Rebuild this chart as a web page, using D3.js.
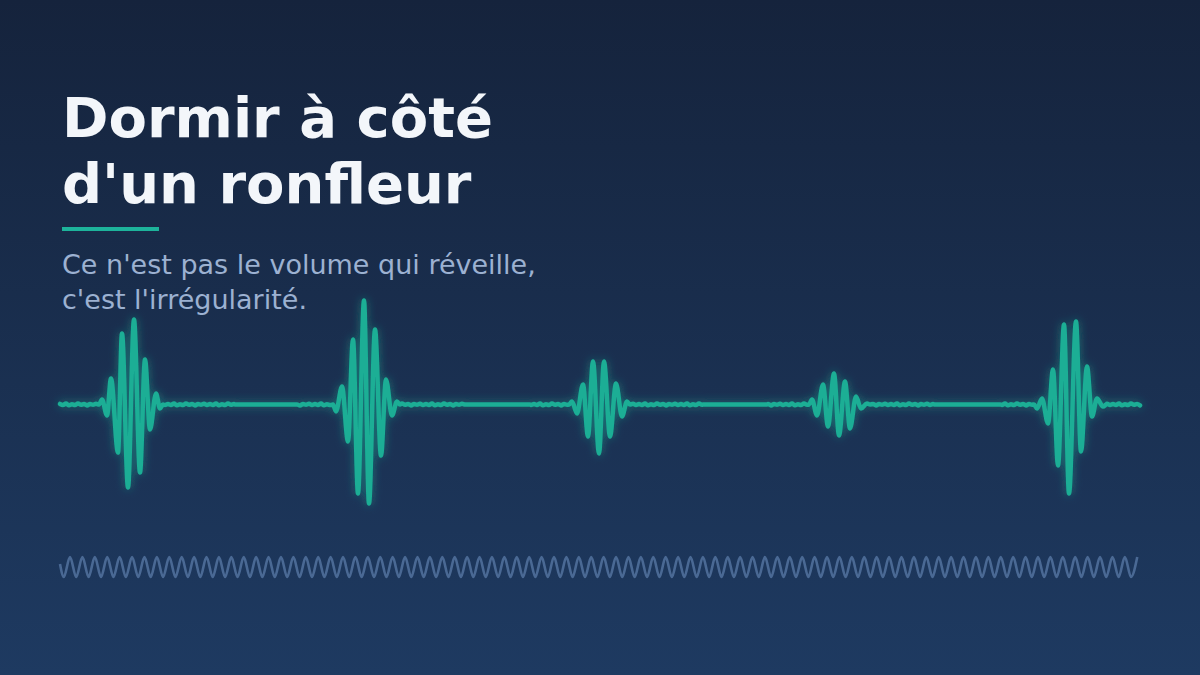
<!DOCTYPE html>
<html>
<head>
<meta charset="utf-8">
<script src="https://cdn.jsdelivr.net/npm/d3@7"></script>
<style>
  html, body { margin: 0; padding: 0; background: #16243d; }
  svg { display: block; }
</style>
</head>
<body>
<div id="drawing"></div>
<script>
// chart text
const titleLines = ["Dormir à côté", "d'un ronfleur"];
const subtitleLines = ["Ce n'est pas le volume qui réveille,", "c'est l'irrégularité."];

// snoring bursts: [time, amplitude] of each crest / trough
const burst1 = [[42,5],[47,-11],[51,26],[58,-48],[62,71],[68,-83],[74,85],[80,-68],[85,45],[90,-25],[96,11],[100,-4]];
const burst2 = [[276,-7],[282,18],[288,-37],[293,65],[298,-89],[304,104],[309,-99],[315,75],[321,-51],[326,25],[332,-11],[337,3]];
const burst3 = [[512,3],[517,-9],[523,20],[528,-32],[533,43],[539,-49],[544,43],[550,-32],[556,21],[562,-12],[567,3]];
const burst4 = [[752,5],[757,-11],[763,20],[768,-22],[774,31],[779,-31],[785,23],[790,-24],[796,8],[801,-4],[807,1]];
const burst5 = [[977,-4],[982,6],[988,-19],[993,35],[998,-61],[1004,80],[1009,-89],[1016,83],[1021,-47],[1027,38],[1032,-12],[1037,6],[1043,-2]];
const bursts = [burst1, burst2, burst3, burst4, burst5];

// flat silent stretches between bursts
const quietSpans = [[175,237],[405,470],[643,707],[875,940]];
// small background hiss around the bursts
const hiss = [0.6,-0.4,0.9,-0.7,0.3,-0.6,1.0,-0.3,0.5,-0.9,0.4,-0.2,0.8,-0.5];

// steady breathing line at the bottom
const breathFirstPeak = 10;
const breathPeriod = 12.41;
const breathAmp = 10;
const duration = 1080;

const width = 1200;
const height = 675;

const svg = d3.select("#drawing").append("svg")
  .attr("width", width)
  .attr("height", height);

const defs = svg.append("defs");
const bg = defs.append("linearGradient")
  .attr("id", "bg").attr("x1", 0).attr("y1", 0).attr("x2", 0).attr("y2", 1);
bg.append("stop").attr("offset", "0%").attr("stop-color", "#15233c");
bg.append("stop").attr("offset", "100%").attr("stop-color", "#1e3a61");

// soft halo round the snoring line
const glow = defs.append("filter")
  .attr("id", "glow")
  .attr("x", "-10%").attr("y", "-60%")
  .attr("width", "120%").attr("height", "220%");
glow.append("feGaussianBlur").attr("in", "SourceGraphic").attr("stdDeviation", 5).attr("result", "blur");
glow.append("feComponentTransfer").attr("in", "blur").attr("result", "soft")
  .append("feFuncA").attr("type", "linear").attr("slope", 0.55);
const merge = glow.append("feMerge");
merge.append("feMergeNode").attr("in", "soft");
merge.append("feMergeNode").attr("in", "SourceGraphic");

svg.append("rect")
  .attr("width", width).attr("height", height)
  .attr("fill", "url(#bg)");

// title block
const title = svg.append("text")
  .attr("font-family", "DejaVu Sans, sans-serif")
  .attr("font-weight", "bold")
  .attr("font-size", 56)
  .attr("fill", "#f3f6fa");
title.selectAll("tspan")
  .data(titleLines)
  .join("tspan")
  .attr("x", 62)
  .attr("y", (d, i) => 137 + i * 66)
  .text(d => d);

svg.append("rect")
  .attr("x", 62).attr("y", 227)
  .attr("width", 97).attr("height", 4)
  .attr("fill", "#1db39b");

const sub = svg.append("text")
  .attr("font-family", "DejaVu Sans, sans-serif")
  .attr("font-size", 27)
  .attr("fill", "#9cb1d1");
sub.selectAll("tspan")
  .data(subtitleLines)
  .join("tspan")
  .attr("x", 62)
  .attr("y", (d, i) => 273.5 + i * 35.5)
  .text(d => d);

// scales
const xScale = d3.scaleLinear().domain([0, duration]).range([60, 1140]);
const yScale = d3.scaleLinear().domain([-100, 100]).range([504.5, 304.5]);
const yBreath = d3.scaleLinear().domain([-10, 10]).range([577, 557]);

// build the snoring track: bursts, hiss and flat silences
const spans = bursts.map(b => [b[0][0] - 3, b[b.length - 1][0] + 3]);
const inside = (t, list) => list.some(s => t >= s[0] && t <= s[1]);
let track = [];
let k = 0;
for (let t = 0; t <= duration; t += 3) {
  if (inside(t, spans)) continue;
  if (inside(t, quietSpans)) track.push([t, 0]);
  else { track.push([t, hiss[k % hiss.length]]); k++; }
}
quietSpans.forEach(s => { track.push([s[0], 0]); track.push([s[1], 0]); });
spans.forEach(s => { track.push([s[0], 0]); track.push([s[1], 0]); });
bursts.forEach(b => { track = track.concat(b); });
track.sort((a, b) => a[0] - b[0]);
track = track.filter((d, i) => i === 0 || d[0] !== track[i - 1][0]);

const snoreLine = d3.line()
  .x(d => xScale(d[0]))
  .y(d => yScale(d[1]))
  .curve(d3.curveMonotoneX);

svg.append("path")
  .attr("d", snoreLine(track))
  .attr("fill", "none")
  .attr("stroke", "#1aae95")
  .attr("stroke-width", 4.5)
  .attr("stroke-linejoin", "round")
  .attr("stroke-linecap", "round")
  .attr("filter", "url(#glow)");

// breathing track: alternating crests and troughs
let breath = [[0, 3]];
for (let t = breathFirstPeak - breathPeriod / 2, s = -1; t <= duration; t += breathPeriod / 2, s = -s) {
  if (t > 0) breath.push([t, s * breathAmp]);
}
const breathLine = d3.line()
  .x(d => xScale(d[0]))
  .y(d => yBreath(d[1]))
  .curve(d3.curveMonotoneX);

svg.append("path")
  .attr("d", breathLine(breath))
  .attr("fill", "none")
  .attr("stroke", "#4a6994")
  .attr("stroke-width", 2.6);
</script>
</body>
</html>
